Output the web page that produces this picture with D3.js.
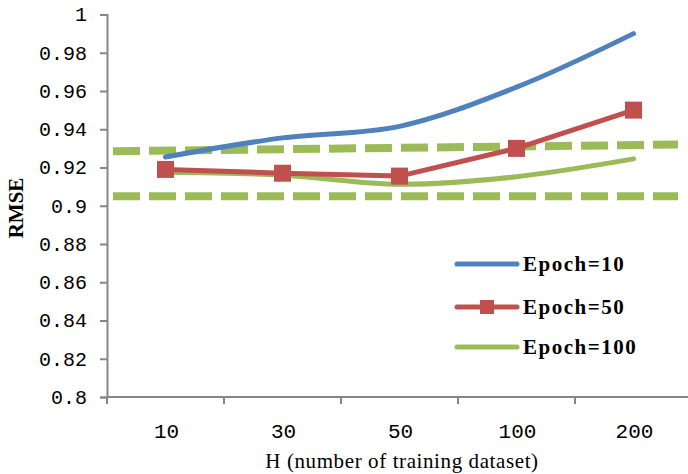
<!DOCTYPE html>
<html>
<head>
<meta charset="utf-8">
<script src="https://cdn.jsdelivr.net/npm/d3@7"></script>
<style>
  body { margin: 0; background: #fff; }
  svg { display: block; }
</style>
</head>
<body>
<script>
// valeurs
const categories = ["10", "30", "50", "100", "200"];
const epoch10 = [0.9255, 0.9355, 0.9415, 0.962, 0.990];
const epoch50 = [0.919, 0.917, 0.9155, 0.930, 0.950];
const epoch100 = [0.9175, 0.916, 0.9112, 0.9152, 0.9245];
const yTicks = [0.8, 0.82, 0.84, 0.86, 0.88, 0.9, 0.92, 0.94, 0.96, 0.98, 1];
// lignes pointillées (valeur à gauche, valeur à droite)
const bandeHaute = [0.9285, 0.932];
const bandeBasse = [0.905, 0.905];

const largeur = 688, hauteur = 474;
const gauche = 107, droite = 692, haut = 14.5, bas = 397;

const svg = d3.select("body").append("svg")
  .attr("width", largeur)
  .attr("height", hauteur);

const x = d3.scalePoint().domain(categories).range([gauche, droite]).padding(0.5);
const y = d3.scaleLinear().domain([0.8, 1]).range([bas, haut]);

// axe Y
const axeY = svg.append("g")
  .attr("transform", `translate(${gauche},0)`)
  .call(d3.axisLeft(y).tickValues(yTicks).tickSize(7).tickPadding(13)
    .tickFormat(d => String(+d.toFixed(2))));
axeY.select(".domain").attr("stroke", "#868686").attr("stroke-width", 2);
axeY.selectAll(".tick line").attr("stroke", "#868686").attr("stroke-width", 2);
axeY.selectAll(".tick text")
  .attr("fill", "#000")
  .style("font-family", "'Liberation Mono', monospace")
  .style("font-size", "20px");

// axe X (graduations entre les catégories)
svg.append("line")
  .attr("x1", gauche).attr("x2", droite)
  .attr("y1", bas).attr("y2", bas)
  .attr("stroke", "#868686").attr("stroke-width", 2);

const pas = x.step();
svg.append("g").selectAll("line")
  .data(d3.range(categories.length + 1))
  .join("line")
  .attr("x1", i => gauche + i * pas).attr("x2", i => gauche + i * pas)
  .attr("y1", bas).attr("y2", bas + 7)
  .attr("stroke", "#868686").attr("stroke-width", 2);

svg.append("g").selectAll("text")
  .data(categories)
  .join("text")
  .attr("x", d => x(d) + 1)
  .attr("y", 438)
  .attr("text-anchor", "middle")
  .style("font-family", "'Liberation Mono', monospace")
  .style("font-size", "21px")
  .text(d => d);

// titres des axes
svg.append("text")
  .attr("transform", "translate(23,208) rotate(-90)")
  .attr("text-anchor", "middle")
  .style("font-family", "'Liberation Serif', serif")
  .style("font-weight", "bold")
  .style("font-size", "21px")
  .text("RMSE");

svg.append("text")
  .attr("x", 402)
  .attr("y", 468)
  .attr("text-anchor", "middle")
  .style("font-family", "'Liberation Serif', serif")
  .style("font-size", "21px")
  .style("letter-spacing", "0.6px")
  .text("H (number of training dataset)");

// lignes pointillées vertes
const xDebut = 113, xFin = 678;
[bandeHaute, bandeBasse].forEach(b => {
  svg.append("line")
    .attr("x1", xDebut).attr("x2", xFin)
    .attr("y1", y(b[0])).attr("y2", y(b[1]))
    .attr("stroke", "#9bbb59")
    .attr("stroke-width", 8)
    .attr("stroke-dasharray", "27 9");
});

// séries
const ligneLisse = d3.line()
  .x((d, i) => x(categories[i]))
  .y(d => y(d))
  .curve(d3.curveCatmullRom.alpha(0.5));
const ligneDroite = d3.line()
  .x((d, i) => x(categories[i]))
  .y(d => y(d));

svg.append("path").datum(epoch100)
  .attr("d", ligneLisse)
  .attr("fill", "none").attr("stroke", "#9bbb59")
  .attr("stroke-width", 5).attr("stroke-linecap", "round");

svg.append("path").datum(epoch50)
  .attr("d", ligneDroite)
  .attr("fill", "none").attr("stroke", "#c0504d")
  .attr("stroke-width", 5).attr("stroke-linejoin", "round");

svg.append("g").selectAll("rect")
  .data(epoch50)
  .join("rect")
  .attr("x", (d, i) => x(categories[i]) - 8.5)
  .attr("y", d => y(d) - 8.5)
  .attr("width", 17).attr("height", 17)
  .attr("fill", "#c0504d");

svg.append("path").datum(epoch10)
  .attr("d", ligneLisse)
  .attr("fill", "none").attr("stroke", "#4f81bd")
  .attr("stroke-width", 5).attr("stroke-linecap", "round");

// légende
const legende = [
  { nom: "Epoch=10", couleur: "#4f81bd", marqueur: false, y: 264 },
  { nom: "Epoch=50", couleur: "#c0504d", marqueur: true, y: 307 },
  { nom: "Epoch=100", couleur: "#9bbb59", marqueur: false, y: 347 }
];
const gLeg = svg.append("g");
legende.forEach(l => {
  gLeg.append("line")
    .attr("x1", 457).attr("x2", 517)
    .attr("y1", l.y).attr("y2", l.y)
    .attr("stroke", l.couleur).attr("stroke-width", 5)
    .attr("stroke-linecap", "round");
  if (l.marqueur) {
    gLeg.append("rect")
      .attr("x", 487 - 7).attr("y", l.y - 7)
      .attr("width", 14).attr("height", 14)
      .attr("fill", l.couleur);
  }
  gLeg.append("text")
    .attr("x", 523).attr("y", l.y)
    .attr("dy", "0.35em")
    .style("font-family", "'Liberation Serif', serif")
    .style("font-weight", "bold")
    .style("font-size", "21px")
    .style("letter-spacing", "1.5px")
    .text(l.nom);
});
</script>
</body>
</html>
